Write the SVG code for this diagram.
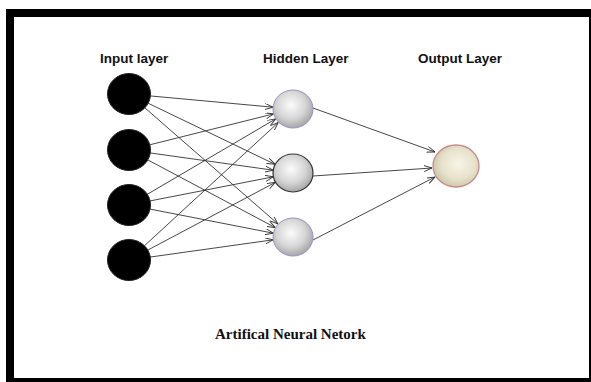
<svg xmlns="http://www.w3.org/2000/svg" width="591" height="382" viewBox="0 0 591 382">
<style>
.lbl{font-family:"Liberation Sans",Arial,sans-serif;font-weight:bold;font-size:13.5px;fill:#111}
.ttl{font-family:"Liberation Serif","Times New Roman",serif;font-weight:bold;font-size:15px;fill:#111}
.in{fill:#000;stroke:#222;stroke-width:1}
.hid{fill:url(#gh);stroke:#9d8fca;stroke-width:1}
.hid2{fill:url(#gh);stroke:#333;stroke-width:1.2}
.out{fill:url(#go);stroke:#c98a88;stroke-width:1.3}
.c line{stroke:#333;stroke-width:0.9;marker-end:url(#ah)}
</style>
<defs>
<radialGradient id="gh" cx="45%" cy="40%" r="65%">
<stop offset="0" stop-color="#fbfbfb"/>
<stop offset="0.55" stop-color="#d6d6d6"/>
<stop offset="1" stop-color="#9c9c9c"/>
</radialGradient>
<radialGradient id="go" cx="55%" cy="45%" r="60%">
<stop offset="0" stop-color="#f8f5e6"/>
<stop offset="0.6" stop-color="#e6e2cb"/>
<stop offset="1" stop-color="#c8c4aa"/>
</radialGradient>
<marker id="ah" markerUnits="userSpaceOnUse" markerWidth="10" markerHeight="8" refX="8" refY="3" orient="auto">
<path d="M0,0 L8,3 L0,6" fill="none" stroke="#333" stroke-width="0.9"/>
</marker>
</defs>
<rect x="6" y="9" width="585" height="373" fill="#000"/>
<rect x="14" y="17" width="575" height="361" fill="#fff"/>
<text class="lbl" x="100" y="63">Input layer</text>
<text class="lbl" x="263" y="63">Hidden Layer</text>
<text class="lbl" x="418" y="63">Output Layer</text>
<g class="c" id="connectors">
<line x1="149.9" y1="95.9" x2="273.1" y2="107.2"/>
<line x1="147.9" y1="103.1" x2="275" y2="164.3"/>
<line x1="144.8" y1="107.8" x2="277.9" y2="223.9"/>
<line x1="149.4" y1="144.9" x2="273.6" y2="113.9"/>
<line x1="149.8" y1="152.9" x2="273.2" y2="170.2"/>
<line x1="147.6" y1="159.8" x2="275.3" y2="227.6"/>
<line x1="147.1" y1="194.4" x2="275.7" y2="118.9"/>
<line x1="149.6" y1="201" x2="273.4" y2="176.8"/>
<line x1="149.6" y1="209" x2="273.4" y2="233.2"/>
<line x1="144.4" y1="245.8" x2="278.3" y2="122.5"/>
<line x1="147.6" y1="250.2" x2="275.3" y2="182.4"/>
<line x1="149.8" y1="257.1" x2="273.2" y2="239.8"/>
<line x1="313" y1="108" x2="435" y2="152"/>
<line x1="313" y1="176" x2="432" y2="168"/>
<line x1="313" y1="240" x2="435" y2="177"/>
</g>
<g id="in1"><ellipse class="in" cx="129" cy="94" rx="21.5" ry="20.5"/></g>
<g id="in2"><ellipse class="in" cx="129" cy="150" rx="21.5" ry="20.5"/></g>
<g id="in3"><ellipse class="in" cx="129" cy="205" rx="21.5" ry="20.5"/></g>
<g id="in4"><ellipse class="in" cx="129" cy="260" rx="21.5" ry="20.5"/></g>
<g id="h1"><ellipse class="hid" cx="293" cy="109" rx="20" ry="19"/></g>
<g id="h2"><ellipse class="hid2" cx="293" cy="173" rx="20" ry="19"/></g>
<g id="h3"><ellipse class="hid" cx="293" cy="237" rx="20" ry="19"/></g>
<g id="out"><ellipse class="out" cx="456" cy="166" rx="23" ry="21"/></g>
<text class="ttl" x="215" y="339">Artifical Neural Netork</text>
</svg>
